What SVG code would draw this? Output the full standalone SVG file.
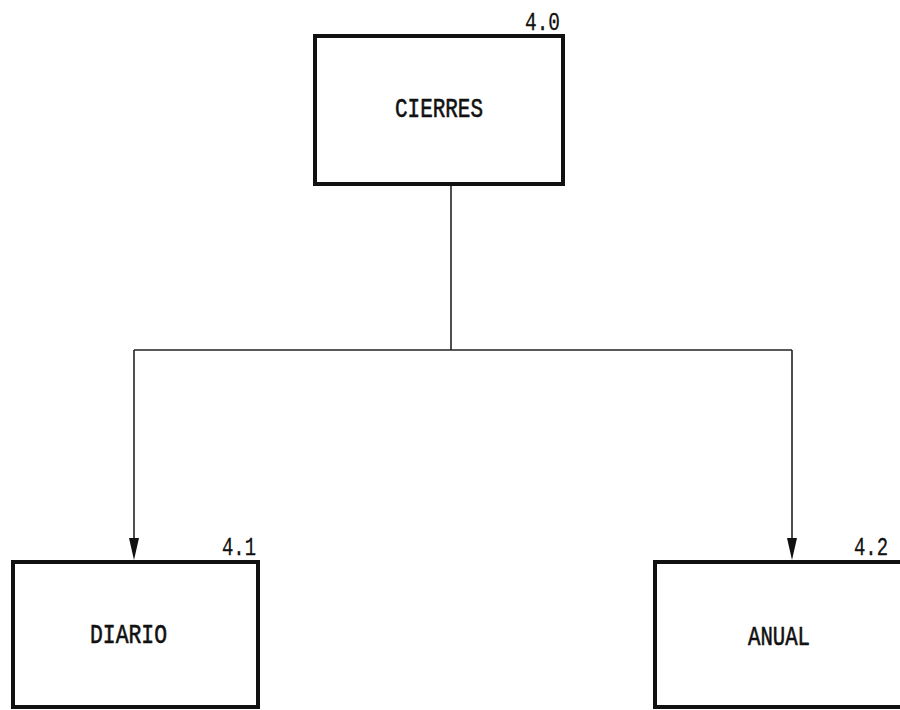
<svg xmlns="http://www.w3.org/2000/svg" width="900" height="710" viewBox="0 0 900 710">
<defs>
<style>
.box{fill:#fff;stroke:#111;stroke-width:4}
.lbl{font-family:"Liberation Mono","DejaVu Sans Mono",monospace;font-size:27px;fill:#111;stroke:#111;stroke-width:0.6}
.num{font-family:"Liberation Mono","DejaVu Sans Mono",monospace;font-size:25px;fill:#111;stroke:#111;stroke-width:0.3}
.conn{fill:none;stroke:#222;stroke-width:1.6}
.head{fill:#111}
</style>
</defs>
<rect width="900" height="710" fill="#fff"/>
<g id="connectors">
<path class="conn" d="M451,184 V350"/>
<path class="conn" d="M134,350 H792"/>
<path class="conn" d="M134,350 V538"/>
<path class="conn" d="M792,350 V538"/>
<path class="head" d="M129,538 L139,538 L134,560 Z"/>
<path class="head" d="M787,538 L797,538 L792,560 Z"/>
</g>
<g id="node-4.0">
<rect class="box" x="315" y="36" width="248" height="148"/>
<text class="lbl" x="439" y="117" text-anchor="middle" textLength="88" lengthAdjust="spacingAndGlyphs">CIERRES</text>
<text class="num" x="525" y="30" textLength="35" lengthAdjust="spacingAndGlyphs">4.0</text>
</g>
<g id="node-4.1">
<rect class="box" x="13" y="562" width="245" height="145"/>
<text class="lbl" x="128.5" y="643" text-anchor="middle" textLength="77" lengthAdjust="spacingAndGlyphs">DIARIO</text>
<text class="num" x="222" y="555" textLength="34" lengthAdjust="spacingAndGlyphs">4.1</text>
</g>
<g id="node-4.2">
<rect class="box" x="655" y="562" width="247" height="145"/>
<text class="lbl" x="779" y="645" text-anchor="middle" textLength="62" lengthAdjust="spacingAndGlyphs">ANUAL</text>
<text class="num" x="854" y="555" font-size="22" textLength="34" lengthAdjust="spacingAndGlyphs">4.2</text>
</g>
</svg>
